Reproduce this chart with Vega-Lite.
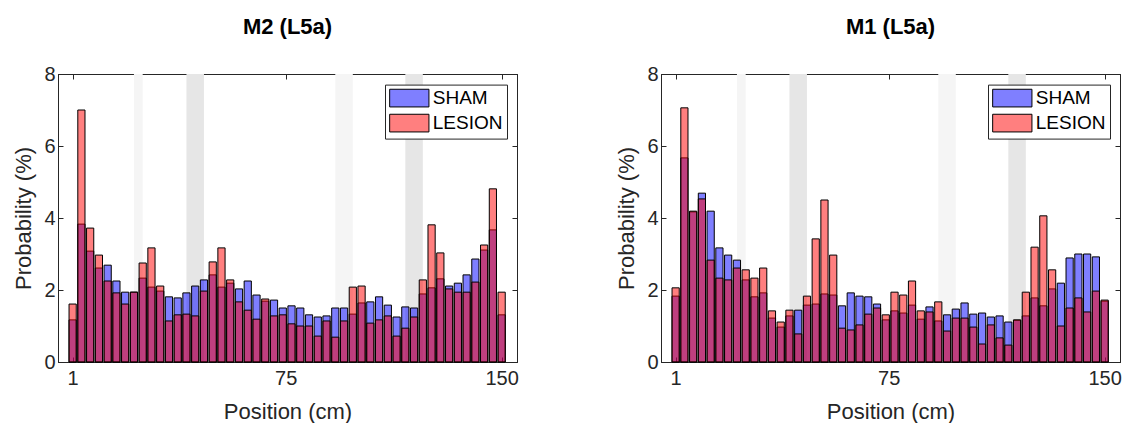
{
  "$schema": "https://vega.github.io/schema/vega-lite/v6.json",
  "background": "white",
  "padding": {"left": 12, "top": 15, "right": 5, "bottom": 0},
  "config": {
    "font": "Liberation Sans",
    "view": {"stroke": "#262626", "strokeWidth": 1},
    "axis": {
      "domainColor": "#262626",
      "tickColor": "#262626",
      "labelColor": "#262626",
      "titleColor": "#262626",
      "labelFont": "Liberation Sans",
      "titleFont": "Liberation Sans",
      "labelFontSize": 20,
      "titleFontSize": 22,
      "titleFontWeight": "normal",
      "grid": false,
      "tickSize": -5,
      "labelPadding": 8,
      "zindex": 1
    },
    "axisX": {"labelPadding": 11},
    "title": {"font": "Liberation Sans", "fontSize": 22, "fontWeight": "bold", "color": "#000000", "anchor": "middle", "offset": 25},
    "legend": {
      "orient": "none",
      "legendX": 327,
      "legendY": 10.6,
      "direction": "vertical",
      "fillColor": "white",
      "strokeColor": "#262626",
      "padding": 4,
      "labelFont": "Liberation Sans",
      "labelFontSize": 19,
      "labelColor": "#000000",
      "labelOffset": 14,
      "symbolOffset": 10.8,
      "symbolType": "M-2.22,-1L2.22,-1L2.22,1L-2.22,1Z",
      "symbolSize": 313,
      "symbolStrokeColor": "black",
      "symbolStrokeWidth": 1,
      "rowPadding": 2
    }
  },
  "datasets": {
    "bands": [
      {"start": 22.29, "end": 25.33, "shade": "light"},
      {"start": 40.53, "end": 46.61, "shade": "dark"},
      {"start": 92.22, "end": 98.31, "shade": "light"},
      {"start": 116.55, "end": 122.63, "shade": "dark"}
    ],
    "m2": [
      {"pos": 1, "sham": 1.17, "lesion": 1.61},
      {"pos": 4.04, "sham": 3.83, "lesion": 7.0},
      {"pos": 7.08, "sham": 3.08, "lesion": 3.72},
      {"pos": 10.12, "sham": 2.61, "lesion": 2.97},
      {"pos": 13.16, "sham": 2.69, "lesion": 2.25},
      {"pos": 16.2, "sham": 2.25, "lesion": 1.92},
      {"pos": 19.24, "sham": 1.94, "lesion": 1.61},
      {"pos": 22.29, "sham": 1.94, "lesion": 1.94},
      {"pos": 25.33, "sham": 2.33, "lesion": 2.75},
      {"pos": 28.37, "sham": 2.08, "lesion": 3.17},
      {"pos": 31.41, "sham": 1.97, "lesion": 2.11},
      {"pos": 34.45, "sham": 1.81, "lesion": 1.14},
      {"pos": 37.49, "sham": 1.78, "lesion": 1.31},
      {"pos": 40.53, "sham": 1.92, "lesion": 1.33},
      {"pos": 43.57, "sham": 2.11, "lesion": 1.28},
      {"pos": 46.61, "sham": 2.28, "lesion": 1.97},
      {"pos": 49.65, "sham": 2.42, "lesion": 2.78},
      {"pos": 52.69, "sham": 2.08, "lesion": 3.17},
      {"pos": 55.73, "sham": 2.19, "lesion": 2.28},
      {"pos": 58.78, "sham": 2.03, "lesion": 1.67},
      {"pos": 61.82, "sham": 2.25, "lesion": 1.44},
      {"pos": 64.86, "sham": 1.86, "lesion": 1.19},
      {"pos": 67.9, "sham": 1.69, "lesion": 1.75},
      {"pos": 70.94, "sham": 1.72, "lesion": 1.28},
      {"pos": 73.98, "sham": 1.5, "lesion": 1.31},
      {"pos": 77.02, "sham": 1.56, "lesion": 1.06},
      {"pos": 80.06, "sham": 1.5, "lesion": 1.0},
      {"pos": 83.1, "sham": 1.31, "lesion": 1.0},
      {"pos": 86.14, "sham": 1.25, "lesion": 0.72},
      {"pos": 89.18, "sham": 1.28, "lesion": 1.14},
      {"pos": 92.22, "sham": 1.5, "lesion": 0.69},
      {"pos": 95.27, "sham": 1.5, "lesion": 1.14},
      {"pos": 98.31, "sham": 1.33, "lesion": 2.08},
      {"pos": 101.35, "sham": 1.64, "lesion": 2.11},
      {"pos": 104.39, "sham": 1.67, "lesion": 1.08},
      {"pos": 107.43, "sham": 1.81, "lesion": 1.17},
      {"pos": 110.47, "sham": 1.58, "lesion": 1.28},
      {"pos": 113.51, "sham": 1.25, "lesion": 0.72},
      {"pos": 116.55, "sham": 1.53, "lesion": 0.94},
      {"pos": 119.59, "sham": 1.5, "lesion": 1.25},
      {"pos": 122.63, "sham": 1.89, "lesion": 2.28},
      {"pos": 125.67, "sham": 2.06, "lesion": 3.81},
      {"pos": 128.71, "sham": 2.31, "lesion": 3.03},
      {"pos": 131.76, "sham": 2.11, "lesion": 2.03},
      {"pos": 134.8, "sham": 2.19, "lesion": 1.94},
      {"pos": 137.84, "sham": 2.42, "lesion": 1.94},
      {"pos": 140.88, "sham": 2.86, "lesion": 2.22},
      {"pos": 143.92, "sham": 3.11, "lesion": 3.25},
      {"pos": 146.96, "sham": 3.67, "lesion": 4.81},
      {"pos": 150, "sham": 1.31, "lesion": 1.94}
    ],
    "m1": [
      {"pos": 1, "sham": 1.83, "lesion": 2.06},
      {"pos": 4.04, "sham": 5.67, "lesion": 7.06},
      {"pos": 7.08, "sham": 4.17, "lesion": 4.19},
      {"pos": 10.12, "sham": 4.69, "lesion": 4.53},
      {"pos": 13.16, "sham": 4.19, "lesion": 2.83},
      {"pos": 16.2, "sham": 3.17, "lesion": 2.33},
      {"pos": 19.24, "sham": 2.97, "lesion": 2.28},
      {"pos": 22.29, "sham": 2.83, "lesion": 2.61},
      {"pos": 25.33, "sham": 2.28, "lesion": 2.56},
      {"pos": 28.37, "sham": 1.81, "lesion": 2.33},
      {"pos": 31.41, "sham": 1.92, "lesion": 2.61},
      {"pos": 34.45, "sham": 1.22, "lesion": 1.42},
      {"pos": 37.49, "sham": 0.97, "lesion": 1.11},
      {"pos": 40.53, "sham": 1.28, "lesion": 1.44},
      {"pos": 43.57, "sham": 1.44, "lesion": 0.78},
      {"pos": 46.61, "sham": 1.58, "lesion": 1.83},
      {"pos": 49.65, "sham": 1.61, "lesion": 3.42},
      {"pos": 52.69, "sham": 1.89, "lesion": 4.5},
      {"pos": 55.73, "sham": 1.86, "lesion": 2.97},
      {"pos": 58.78, "sham": 1.56, "lesion": 0.94},
      {"pos": 61.82, "sham": 1.92, "lesion": 0.89},
      {"pos": 64.86, "sham": 1.83, "lesion": 1.03},
      {"pos": 67.9, "sham": 1.81, "lesion": 1.33},
      {"pos": 70.94, "sham": 1.61, "lesion": 1.5},
      {"pos": 73.98, "sham": 1.17, "lesion": 1.31},
      {"pos": 77.02, "sham": 1.42, "lesion": 1.94},
      {"pos": 80.06, "sham": 1.36, "lesion": 1.86},
      {"pos": 83.1, "sham": 1.58, "lesion": 2.25},
      {"pos": 86.14, "sham": 1.19, "lesion": 1.42},
      {"pos": 89.18, "sham": 1.53, "lesion": 1.39},
      {"pos": 92.22, "sham": 1.14, "lesion": 1.67},
      {"pos": 95.27, "sham": 1.31, "lesion": 0.86},
      {"pos": 98.31, "sham": 1.47, "lesion": 1.22},
      {"pos": 101.35, "sham": 1.64, "lesion": 1.22},
      {"pos": 104.39, "sham": 1.33, "lesion": 0.97},
      {"pos": 107.43, "sham": 1.36, "lesion": 0.5},
      {"pos": 110.47, "sham": 1.25, "lesion": 1.03},
      {"pos": 113.51, "sham": 1.28, "lesion": 0.67},
      {"pos": 116.55, "sham": 1.11, "lesion": 0.47},
      {"pos": 119.59, "sham": 1.16, "lesion": 1.17},
      {"pos": 122.63, "sham": 1.28, "lesion": 1.94},
      {"pos": 125.67, "sham": 1.78, "lesion": 3.19},
      {"pos": 128.71, "sham": 1.56, "lesion": 4.06},
      {"pos": 131.76, "sham": 2.03, "lesion": 2.56},
      {"pos": 134.8, "sham": 2.19, "lesion": 1.0},
      {"pos": 137.84, "sham": 2.89, "lesion": 1.5},
      {"pos": 140.88, "sham": 3.0, "lesion": 1.78},
      {"pos": 143.92, "sham": 3.0, "lesion": 1.39},
      {"pos": 146.96, "sham": 2.92, "lesion": 1.97},
      {"pos": 150, "sham": 1.69, "lesion": 1.72}
    ]
  },
  "bounds": "flush",
  "spacing": 144,
  "resolve": {"scale": {"color": "independent", "fill": "independent"}, "legend": {"color": "independent"}},
  "hconcat": [
    {
      "title": "M2 (L5a)",
      "width": 459,
      "height": 288,
      "layer": [
        {
          "data": {"name": "bands"},
          "mark": {"type": "rect"},
          "encoding": {
            "x": {"field": "start", "type": "quantitative", "scale": {"domain": [-2.35, 153.6], "nice": false, "zero": false}, "axis": {"values": [1, 75, 150], "title": "Position (cm)", "titlePadding": 13}},
            "x2": {"field": "end"},
            "y": {"datum": 8, "type": "quantitative", "scale": {"domain": [0, 8], "nice": false}, "axis": {"values": [0, 2, 4, 6, 8], "title": "Probability (%)", "titlePadding": 8}},
            "y2": {"datum": 0},
            "fill": {"field": "shade", "type": "nominal", "scale": {"domain": ["light", "dark"], "range": ["#F5F5F5", "#E6E6E6"]}, "legend": null}
          }
        },
        {
          "data": {"name": "m2"},
          "mark": {"type": "bar", "width": 7.2, "fillOpacity": 0.5, "stroke": "black", "strokeWidth": 1},
          "encoding": {
            "x": {"field": "pos", "type": "quantitative", "axis": {"values": [1, 75, 150], "labels": false, "title": null}},
            "y": {"field": "sham", "type": "quantitative", "axis": {"values": [0, 2, 4, 6, 8], "labels": false, "title": null}},
            "color": {"datum": "SHAM", "type": "nominal", "scale": {"domain": ["SHAM", "LESION"], "range": ["#0000FF", "#FF0000"]}, "legend": {"title": null, "encode": {"symbols": {"update": {"fillOpacity": {"value": 0.5}, "opacity": {"value": 1}}}}}}
          }
        },
        {
          "data": {"name": "m2"},
          "mark": {"type": "bar", "width": 7.2, "fillOpacity": 0.5, "stroke": "black", "strokeWidth": 1},
          "encoding": {
            "x": {"field": "pos", "type": "quantitative", "axis": null},
            "y": {"field": "lesion", "type": "quantitative", "axis": null},
            "color": {"datum": "LESION", "type": "nominal"}
          }
        }
      ],
      "resolve": {"axis": {"x": "independent", "y": "independent"}}
    },
    {
      "title": "M1 (L5a)",
      "width": 459,
      "height": 288,
      "layer": [
        {
          "data": {"name": "bands"},
          "mark": {"type": "rect"},
          "encoding": {
            "x": {"field": "start", "type": "quantitative", "scale": {"domain": [-2.35, 153.6], "nice": false, "zero": false}, "axis": {"values": [1, 75, 150], "title": "Position (cm)", "titlePadding": 13}},
            "x2": {"field": "end"},
            "y": {"datum": 8, "type": "quantitative", "scale": {"domain": [0, 8], "nice": false}, "axis": {"values": [0, 2, 4, 6, 8], "title": "Probability (%)", "titlePadding": 8}},
            "y2": {"datum": 0},
            "fill": {"field": "shade", "type": "nominal", "scale": {"domain": ["light", "dark"], "range": ["#F5F5F5", "#E6E6E6"]}, "legend": null}
          }
        },
        {
          "data": {"name": "m1"},
          "mark": {"type": "bar", "width": 7.2, "fillOpacity": 0.5, "stroke": "black", "strokeWidth": 1},
          "encoding": {
            "x": {"field": "pos", "type": "quantitative", "axis": {"values": [1, 75, 150], "labels": false, "title": null}},
            "y": {"field": "sham", "type": "quantitative", "axis": {"values": [0, 2, 4, 6, 8], "labels": false, "title": null}},
            "color": {"datum": "SHAM", "type": "nominal", "scale": {"domain": ["SHAM", "LESION"], "range": ["#0000FF", "#FF0000"]}, "legend": {"title": null, "encode": {"symbols": {"update": {"fillOpacity": {"value": 0.5}, "opacity": {"value": 1}}}}}}
          }
        },
        {
          "data": {"name": "m1"},
          "mark": {"type": "bar", "width": 7.2, "fillOpacity": 0.5, "stroke": "black", "strokeWidth": 1},
          "encoding": {
            "x": {"field": "pos", "type": "quantitative", "axis": null},
            "y": {"field": "lesion", "type": "quantitative", "axis": null},
            "color": {"datum": "LESION", "type": "nominal"}
          }
        }
      ],
      "resolve": {"axis": {"x": "independent", "y": "independent"}}
    }
  ]
}
